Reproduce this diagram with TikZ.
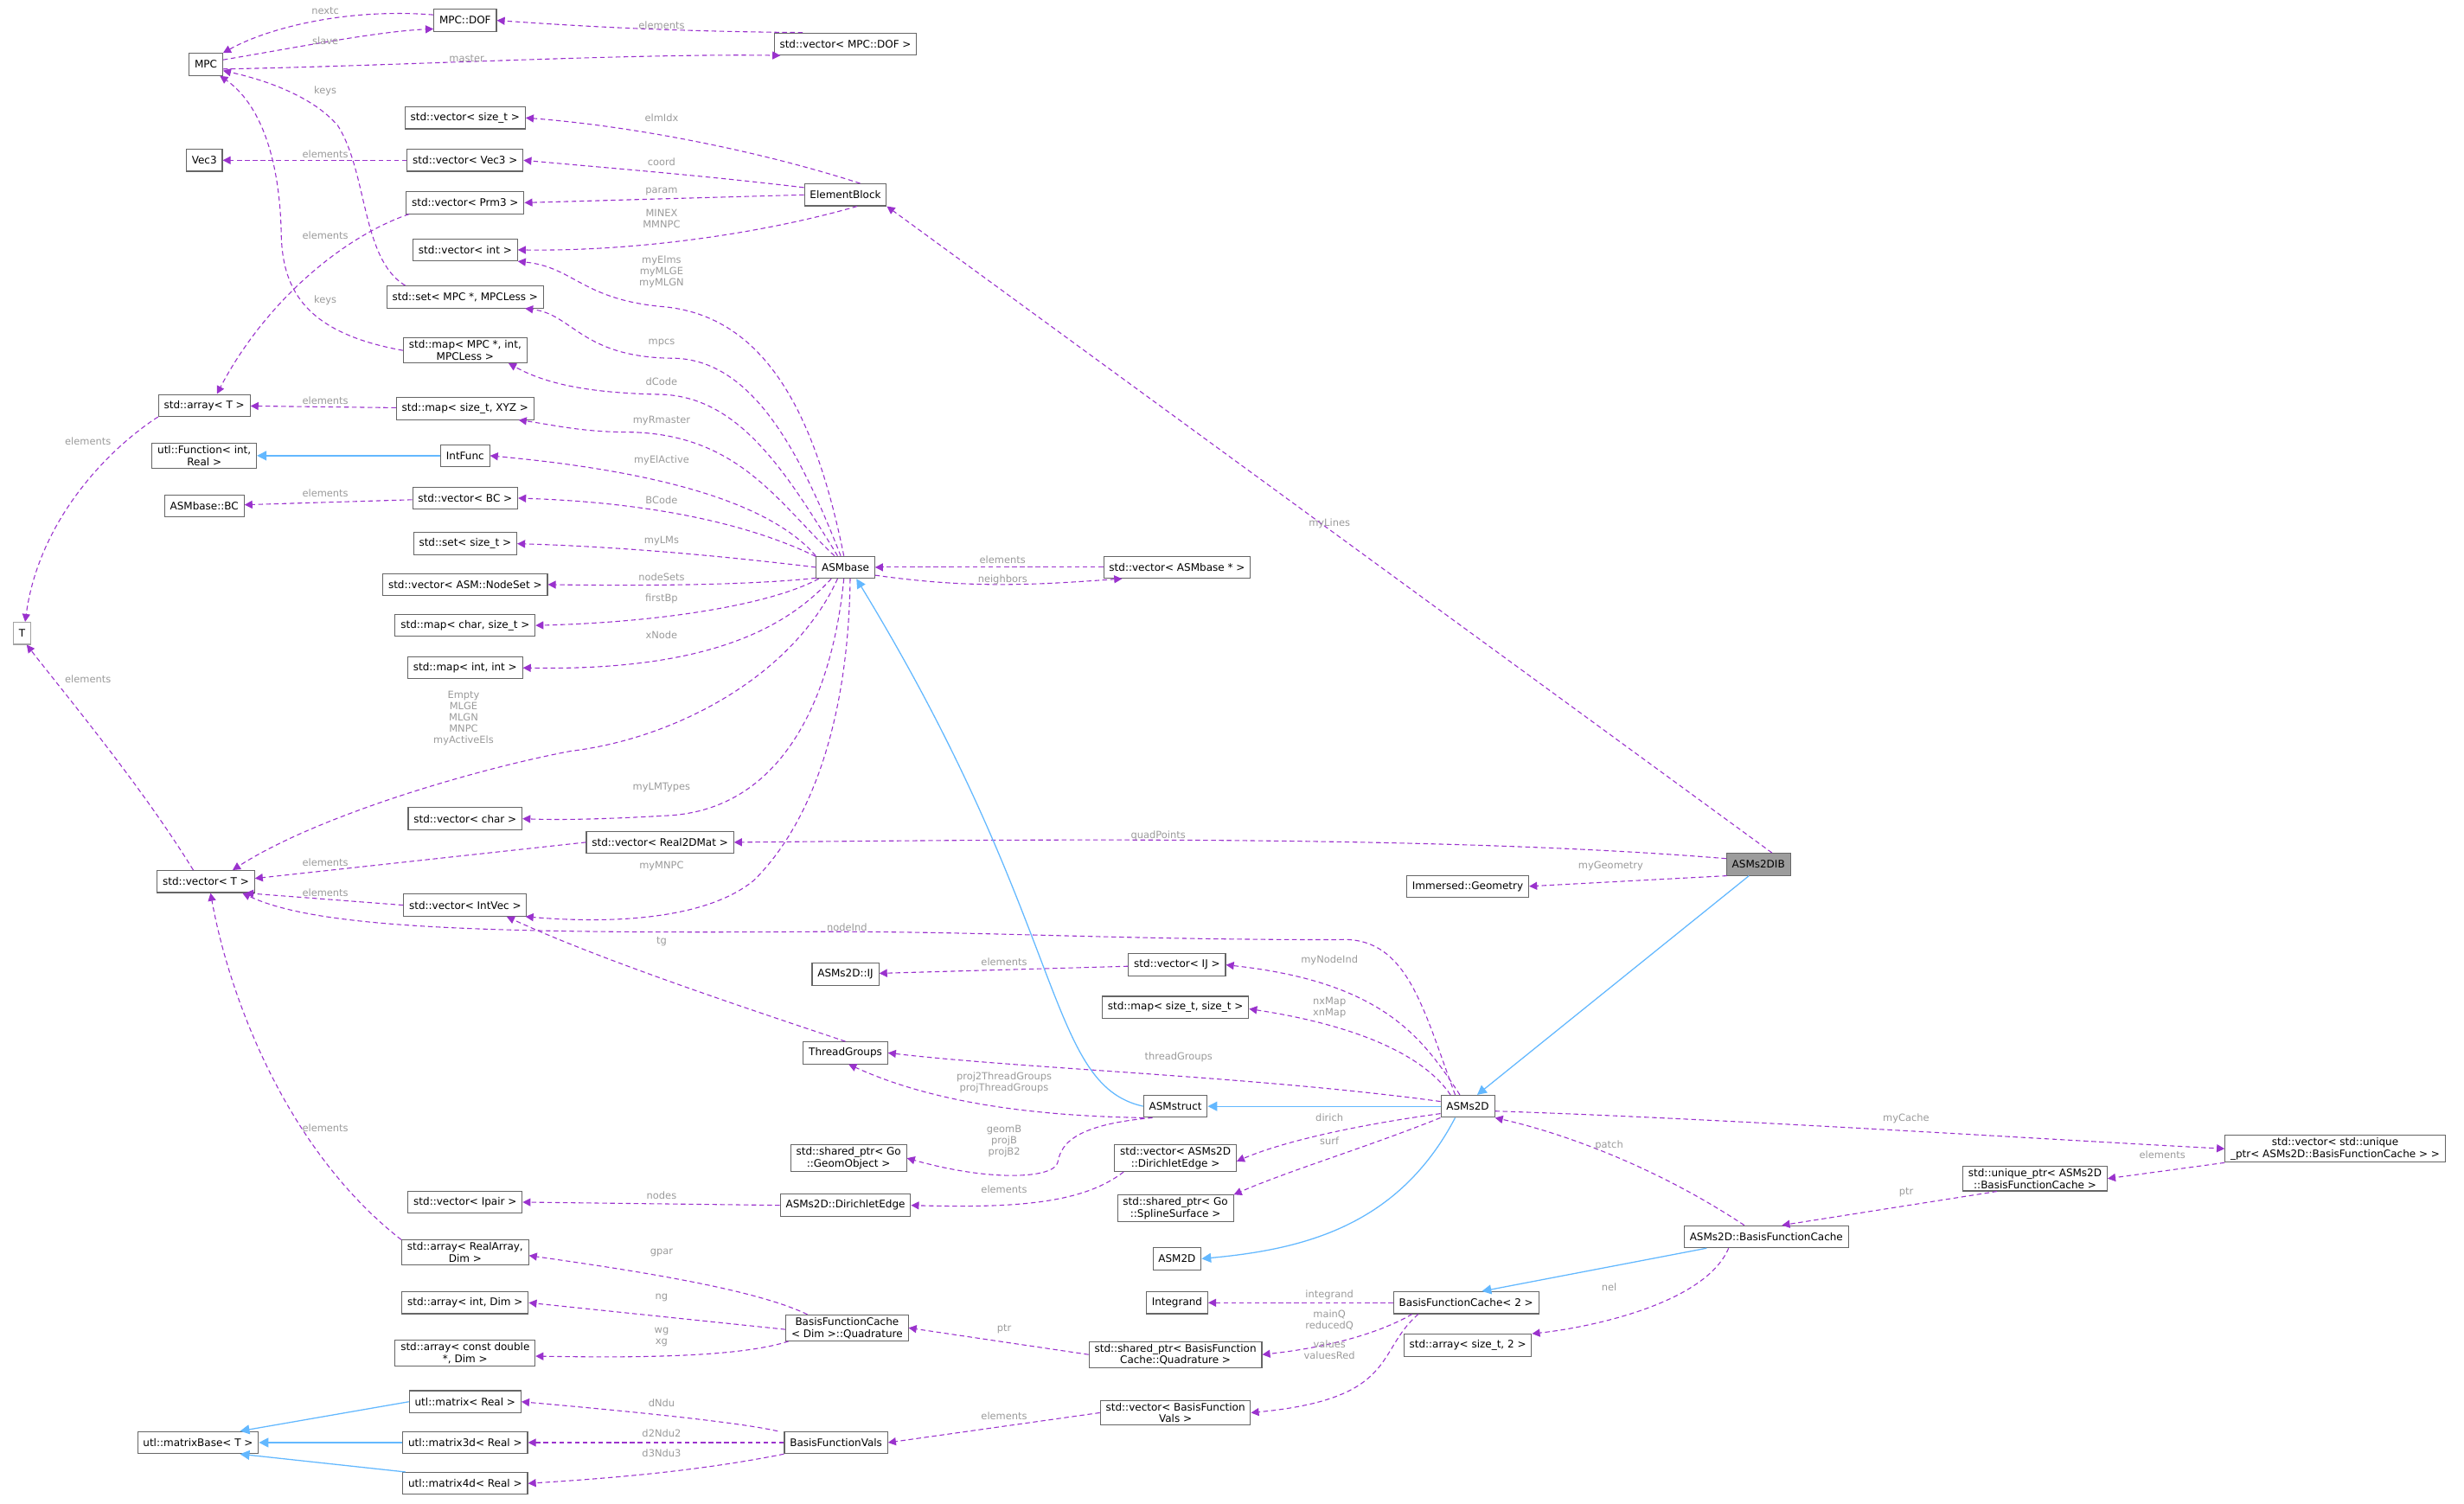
\documentclass[tikz,border=0pt]{standalone}
\usepackage{fontspec}
\setmainfont{DejaVu Sans}
\usetikzlibrary{arrows.meta}
\definecolor{purp}{HTML}{9A32CD}
\definecolor{labc}{HTML}{9A9A9A}
\definecolor{inh}{HTML}{63B8FF}
\definecolor{boxc}{HTML}{666666}
\begin{document}
\begin{tikzpicture}[x=1pt,y=-1pt,
  box/.style={draw=boxc,fill=white,line width=0.6pt,font=\fontsize{6.6}{7.6}\selectfont,inner xsep=3.5pt,inner ysep=1.5pt,minimum height=14pt,align=center},
  mem/.style={draw=purp,line width=0.6pt,dash pattern=on 3pt off 2pt,-{Triangle[length=5pt,width=5pt]}},
  inhe/.style={draw=inh,line width=0.7pt,-{Triangle[length=6pt,width=6pt]}},
  lab/.style={font=\fontsize{6.3}{7.2}\selectfont,text=labc,align=center,inner sep=0pt}]
\useasboundingbox (0,0) rectangle (1568,957);
% nodes
\node[box] (MPC) at (131,41) {MPC};
\node[box] (MPCDOF) at (296,13) {MPC::DOF};
\node[box] (vecDOF) at (538,28) {std::vector< MPC::DOF >};
\node[box] (vsize) at (296,75) {std::vector< size\_t >};
\node[box] (Vec3) at (130,102) {Vec3};
\node[box] (vvec3) at (296,102) {std::vector< Vec3 >};
\node[box] (vprm3) at (296,129) {std::vector< Prm3 >};
\node[box] (EB) at (538,124) {ElementBlock};
\node[box] (vint) at (296,159) {std::vector< int >};
\node[box] (setMPC) at (296,189) {std::set< MPC *, MPCLess >};
\node[box] (mapMPC) at (296,223) {std::map< MPC *, int,\\MPCLess >};
\node[box] (arrT) at (130,258) {std::array< T >};
\node[box] (mapXYZ) at (296,260) {std::map< size\_t, XYZ >};
\node[box] (Func) at (130,290) {utl::Function< int,\\Real >};
\node[box] (IntFunc) at (296,290) {IntFunc};
\node[box] (BC) at (130,322) {ASMbase::BC};
\node[box] (vBC) at (296,317) {std::vector< BC >};
\node[box] (setsize) at (296,346) {std::set< size\_t >};
\node[box] (vNS) at (296,372) {std::vector< ASM::NodeSet >};
\node[box] (mapchar) at (296,398) {std::map< char, size\_t >};
\node[box] (mapint) at (296,425) {std::map< int, int >};
\node[box,draw=boxc!60] (T) at (14,403) {T};
\node[box] (ASMbase) at (538,361) {ASMbase};
\node[box] (vASMbase) at (749,361) {std::vector< ASMbase * >};
\node[box] (vchar) at (296,521) {std::vector< char >};
\node[box] (vR2D) at (420,536) {std::vector< Real2DMat >};
\node[box] (vT) at (131,561) {std::vector< T >};
\node[box] (vIntVec) at (296,576) {std::vector< IntVec >};
\node[box,fill=boxc!65] (IB) at (1119,550) {ASMs2DIB};
\node[box] (Geo) at (934,564) {Immersed::Geometry};
\node[box] (IJ) at (538,620) {ASMs2D::IJ};
\node[box] (vIJ) at (749,614) {std::vector< IJ >};
\node[box] (mapsize) at (748,641) {std::map< size\_t, size\_t >};
\node[box] (TG) at (538,670) {ThreadGroups};
\node[box] (ASMstruct) at (748,704) {ASMstruct};
\node[box] (ASMs2D) at (934,704) {ASMs2D};
\node[box] (sGeom) at (540,737) {std::shared\_ptr< Go\\::GeomObject >};
\node[box] (vDir) at (748,737) {std::vector< ASMs2D\\::DirichletEdge >};
\node[box] (Dir) at (538,767) {ASMs2D::DirichletEdge};
\node[box] (vIpair) at (296,765) {std::vector< Ipair >};
\node[box] (sSpl) at (748,769) {std::shared\_ptr< Go\\::SplineSurface >};
\node[box] (ASM2D) at (749,801) {ASM2D};
\node[box] (vUni) at (1486,731) {std::vector< std::unique\\\_ptr< ASMs2D::BasisFunctionCache > >};
\node[box] (uPtr) at (1295,750) {std::unique\_ptr< ASMs2D\\::BasisFunctionCache >};
\node[box] (BFC) at (1124,787) {ASMs2D::BasisFunctionCache};
\node[box] (arrRA) at (296,797) {std::array< RealArray,\\Dim >};
\node[box] (arrID) at (296,829) {std::array< int, Dim >};
\node[box] (Integrand) at (749,829) {Integrand};
\node[box] (BFC2) at (933,829) {BasisFunctionCache< 2 >};
\node[box] (Quad) at (539,845) {BasisFunctionCache\\< Dim >::Quadrature};
\node[box] (arrCD) at (296,861) {std::array< const double\\*, Dim >};
\node[box] (sQuad) at (748,862) {std::shared\_ptr< BasisFunction\\Cache::Quadrature >};
\node[box] (arrS2) at (934,856) {std::array< size\_t, 2 >};
\node[box] (mat) at (296,892) {utl::matrix< Real >};
\node[box] (matB) at (126,918) {utl::matrixBase< T >};
\node[box] (mat3) at (296,918) {utl::matrix3d< Real >};
\node[box] (BFV) at (532,918) {BasisFunctionVals};
\node[box] (vBFV) at (748,899) {std::vector< BasisFunction\\Vals >};
\node[box] (mat4) at (296,944) {utl::matrix4d< Real >};
% MPC group
\draw[mem] (MPCDOF.170) .. controls (220,5) and (170,18) .. (MPC.north east);
\node[lab] (l1) at (207,7) {nextc};
\draw[mem] (MPC.15) .. controls (190,30) and (240,20) .. (MPCDOF.195);
\node[lab] (l2) at (207,26) {slave};
\draw[mem] (MPC.345) .. controls (250,42) and (400,34) .. (vecDOF.190);
\node[lab] (l3) at (297,37) {master};
\draw[mem] (vecDOF.165) .. controls (420,20) and (360,16) .. (MPCDOF.east);
\node[lab] (l4) at (421,16) {elements};
\draw[mem] ([xshift=12pt]setMPC.north west) .. controls (230,165) and (234,110) .. (215,80) .. controls (198,60) and (165,50) .. (MPC.-20);
\node[lab] (l5) at (207,58) {keys};
\draw[mem] (mapMPC.west) .. controls (195,212) and (180,185) .. (179,150) .. controls (178,90) and (160,62) .. ([xshift=-2pt]MPC.south east);
\node[lab] (l6) at (207,191) {keys};
\draw[mem] (vvec3) -- (Vec3);
\node[lab] (l7) at (207,98) {elements};
\draw[mem] ([xshift=2pt]vprm3.south west) .. controls (220,150) and (170,190) .. ([xshift=8pt]arrT.north);
\node[lab] (l8) at (207,150) {elements};
\draw[mem] (mapXYZ) -- (arrT);
\node[lab] (l9) at (207,255) {elements};
\draw[mem] (arrT.south west) .. controls (70,285) and (25,330) .. ([xshift=2pt]T.north);
\node[lab] (l10) at (56,281) {elements};
\draw[mem] ([xshift=-8pt]vT.north) .. controls (90,500) and (40,440) .. ([xshift=3pt]T.south);
\node[lab] (l11) at (56,432) {elements};
\draw[inhe] (IntFunc) -- (Func);
\draw[mem] (vBC) -- (BC);
\node[lab] (l12) at (207,314) {elements};
% ElementBlock
\draw[mem] ([xshift=-17pt]EB.north east) .. controls (480,95) and (400,80) .. (vsize.east);
\node[lab] (l13) at (421,75) {elmIdx};
\draw[mem] (EB.170) .. controls (450,112) and (400,108) .. (vvec3.east);
\node[lab] (l14) at (421,103) {coord};
\draw[mem] (EB.west) -- (vprm3.east);
\node[lab] (l15) at (421,122) {param};
\draw[mem] ([xshift=-19pt]EB.south east) .. controls (480,150) and (400,160) .. (vint.east);
\node[lab] (l16) at (421,139) {MINEX\\MMNPC};
% ASMbase fan
\draw[mem] ([xshift=-1pt]ASMbase.north) .. controls (520,270) and (490,200) .. (420,195) .. controls (370,190) and (365,170) .. (vint.south east);
\node[lab] (l17) at (421,173) {myElms\\myMLGE\\myMLGN};
\draw[mem] ([xshift=-3pt]ASMbase.north) .. controls (510,290) and (480,230) .. (430,228) .. controls (370,228) and (365,200) .. ([xshift=-12pt]setMPC.south east);
\node[lab] (l18) at (421,218) {mpcs};
\draw[mem] ([xshift=-5pt]ASMbase.north) .. controls (500,300) and (470,252) .. (420,251) .. controls (370,250) and (345,243) .. ([xshift=-12pt]mapMPC.south east);
\node[lab] (l19) at (421,243) {dCode};
\draw[mem] ([xshift=-7pt]ASMbase.north) .. controls (495,320) and (470,276) .. (400,275) .. controls (370,275) and (350,270) .. ([xshift=-10pt]mapXYZ.south east);
\node[lab] (l20) at (421,268) {myRmaster};
\draw[mem] (ASMbase.north west) .. controls (490,320) and (420,300) .. (IntFunc.east);
\node[lab] (l21) at (421,293) {myElActive};
\draw[mem] (ASMbase.160) .. controls (480,335) and (420,320) .. (vBC.east);
\node[lab] (l22) at (421,318) {BCode};
\draw[mem] (ASMbase.180) .. controls (470,355) and (400,348) .. (setsize.east);
\node[lab] (l23) at (421,344) {myLMs};
\draw[mem] (ASMbase.200) .. controls (480,372) and (420,373) .. (vNS.east);
\node[lab] (l24) at (421,367) {nodeSets};
\draw[mem] ([xshift=-17pt]ASMbase.south) .. controls (490,385) and (420,396) .. (mapchar.east);
\node[lab] (l25) at (421,381) {firstBp};
\draw[mem] ([xshift=-9pt]ASMbase.south) .. controls (500,400) and (450,427) .. (mapint.east);
\node[lab] (l26) at (421,404) {xNode};
\draw[mem] ([xshift=-5pt]ASMbase.south) .. controls (505,430) and (430,470) .. (363,478) .. controls (300,490) and (200,520) .. ([xshift=17pt]vT.north);
\node[lab] (l27) at (295,457) {Empty\\MLGE\\MLGN\\MNPC\\myActiveEls};
\draw[mem] ([xshift=-1pt]ASMbase.south) .. controls (530,440) and (500,515) .. (425,519) .. controls (390,521) and (360,522) .. (vchar.east);
\node[lab] (l28) at (421,501) {myLMTypes};
\draw[mem] ([xshift=3pt]ASMbase.south) .. controls (540,450) and (520,520) .. (480,560) .. controls (450,585) and (390,588) .. ([xshift=-1pt]vIntVec.south east);
\node[lab] (l29) at (421,551) {myMNPC};
\draw[mem] (ASMbase.-15) .. controls (620,375) and (660,372) .. ([xshift=12pt]vASMbase.south west);
\node[lab] (l30) at (638,369) {neighbors};
\draw[mem] (vASMbase) -- (ASMbase);
\node[lab] (l31) at (638,356) {elements};
\draw[mem] (vR2D.west) -- ([yshift=2pt]vT.east);
\node[lab] (l32) at (207,549) {elements};
\draw[mem] (vIntVec.west) -- ([xshift=-6pt]vT.south east);
\node[lab] (l33) at (207,568) {elements};
% ASMs2DIB
\draw[mem] ([xshift=-12pt]IB.north east) -- (EB.south east);
\node[lab] (l34) at (846,333) {myLines};
\draw[mem] (IB.170) .. controls (900,530) and (600,535) .. (vR2D.east);
\node[lab] (l35) at (737,532) {quadPoints};
\draw[mem] (IB.200) -- (Geo.east);
\node[lab] (l36) at (1025,551) {myGeometry};
\draw[inhe] ([xshift=-6pt]IB.south) -- ([xshift=6pt]ASMs2D.north);
% ASMs2D
\draw[mem] ([xshift=-8pt]ASMs2D.north) .. controls (905,640) and (895,595) .. (851,598) .. controls (700,598) and (620,592) .. (500,593) .. controls (300,594) and (200,590) .. ([xshift=-8pt]vT.south east);
\node[lab] (l37) at (539,590) {nodeInd};
\draw[mem] ([xshift=-5pt]ASMs2D.north) .. controls (905,660) and (880,625) .. (vIJ.east);
\node[lab] (l38) at (846,611) {myNodeInd};
\draw[mem] ([xshift=-11pt]ASMs2D.north) .. controls (905,670) and (860,652) .. ([yshift=-1pt]mapsize.east);
\node[lab] (l39) at (846,641) {nxMap\\xnMap};
\draw[mem] (ASMs2D.170) .. controls (800,685) and (650,680) .. (TG.east);
\node[lab] (l40) at (750,673) {threadGroups};
\draw[inhe] (ASMs2D) -- (ASMstruct);
\draw[mem] (ASMs2D.195) .. controls (870,715) and (820,725) .. ([yshift=-2pt]vDir.east);
\node[lab] (l41) at (846,711) {dirich};
\draw[mem] (ASMs2D.south west) .. controls (870,730) and (820,745) .. (sSpl.north east);
\node[lab] (l42) at (846,726) {surf};
\draw[inhe] ([xshift=-8pt]ASMs2D.south) .. controls (890,780) and (830,795) .. (ASM2D.east);
\draw[mem] (ASMs2D.-10) .. controls (1100,712) and (1300,725) .. (vUni.west);
\node[lab] (l43) at (1213,712) {myCache};
% ASMstruct
\draw[inhe] (ASMstruct.west) .. controls (665,690) and (680,590) .. ([xshift=7pt]ASMbase.south);
\draw[mem] (ASMstruct.200) .. controls (650,710) and (590,700) .. ([xshift=2pt]TG.south);
\node[lab] (l44) at (639,689) {proj2ThreadGroups\\projThreadGroups};
\draw[mem] ([xshift=6pt]ASMstruct.south west) .. controls (680,716) and (675,730) .. (673,740) .. controls (670,750) and (630,752) .. (sGeom.east);
\node[lab] (l45) at (639,726) {geomB\\projB\\projB2};
\draw[mem] (TG.north) .. controls (470,640) and (380,610) .. ([xshift=-13pt]vIntVec.south east);
\node[lab] (l46) at (421,599) {tg};
\draw[mem] (vIJ) -- (IJ);
\node[lab] (l47) at (639,612) {elements};
\draw[mem] ([xshift=6pt]vDir.south west) .. controls (690,765) and (650,769) .. (Dir.east);
\node[lab] (l48) at (639,757) {elements};
\draw[mem] (Dir.west) -- (vIpair.east);
\node[lab] (l49) at (421,761) {nodes};
% BasisFunctionCache
\draw[mem] (vUni.south west) -- (uPtr.east);
\node[lab] (l50) at (1376,735) {elements};
\draw[mem] ([xshift=22pt]uPtr.south west) -- ([xshift=10pt]BFC.north);
\node[lab] (l51) at (1213,759) {ptr};
\draw[mem] ([xshift=-14pt]BFC.north) .. controls (1050,740) and (990,720) .. (ASMs2D.south east);
\node[lab] (l52) at (1024,729) {patch};
\draw[inhe] ([xshift=-38pt]BFC.south) -- ([xshift=10pt]BFC2.north);
\draw[mem] ([xshift=-24pt]BFC.south) .. controls (1085,830) and (1010,845) .. (arrS2.north east);
\node[lab] (l53) at (1024,819) {nel};
\draw[mem] (BFC2.west) -- (Integrand.east);
\node[lab] (l54) at (846,824) {integrand};
\draw[mem] ([xshift=12pt]BFC2.south west) .. controls (875,850) and (840,858) .. (sQuad.east);
\node[lab] (l55) at (846,840) {mainQ\\reducedQ};
\draw[mem] ([xshift=16pt]BFC2.south west) .. controls (875,860) and (890,890) .. (vBFV.east);
\node[lab] (l56) at (846,859) {values\\valuesRed};
\draw[mem] (sQuad.west) -- (Quad.east);
\node[lab] (l57) at (639,846) {ptr};
\draw[mem] (vBFV.west) -- (BFV.east);
\node[lab] (l58) at (639,901) {elements};
\draw[mem] ([xshift=14pt]Quad.north west) .. controls (480,820) and (400,808) .. ([yshift=-2pt]arrRA.east);
\node[lab] (l59) at (421,797) {gpar};
\draw[mem] ([yshift=-1pt]Quad.west) -- (arrID.east);
\node[lab] (l60) at (421,826) {ng};
\draw[mem] ([xshift=2pt]Quad.south west) .. controls (470,864) and (400,864) .. ([yshift=-2pt]arrCD.east);
\node[lab] (l61) at (421,851) {wg\\xg};
\draw[mem] (arrRA.north west) .. controls (180,730) and (145,630) .. ([xshift=3pt]vT.south);
\node[lab] (l62) at (207,718) {elements};
\draw[mem] ([xshift=-4pt]BFV.north west) .. controls (470,905) and (400,898) .. (mat.east);
\node[lab] (l63) at (421,893) {dNdu};
\draw[mem] (BFV.west) -- (mat3.east);
\node[lab] (l64) at (421,912) {d2Ndu2};
\draw[mem] (BFV.south west) .. controls (450,935) and (400,940) .. (mat4.east);
\node[lab] (l65) at (421,925) {d3Ndu3};
\draw[inhe] (mat.west) -- ([xshift=-12pt]matB.north east);
\draw[inhe] (mat3.west) -- (matB.east);
\draw[inhe] ([xshift=2pt]mat4.north west) -- ([xshift=-12pt]matB.south east);
\end{tikzpicture}
\end{document}
